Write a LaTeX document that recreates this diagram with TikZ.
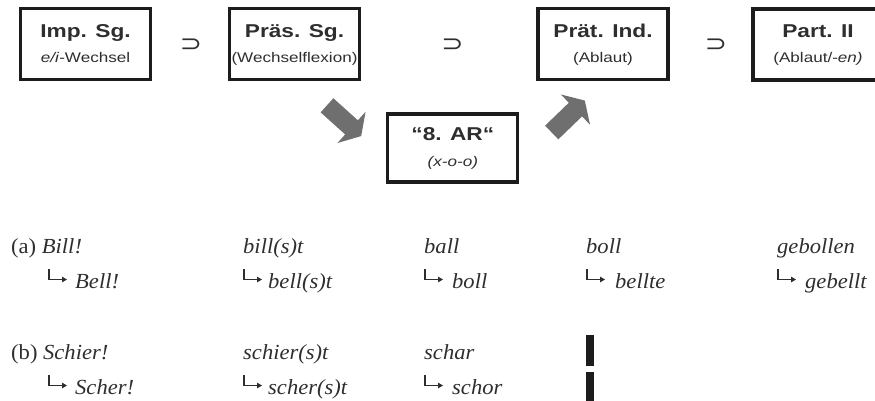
\documentclass[tikz,border=0pt]{standalone}
\usepackage{fontspec}
\usetikzlibrary{arrows.meta}
\setmainfont[FakeStretch=1.05]{Liberation Serif}
\setsansfont[FakeStretch=1.22]{Liberation Sans}
\newfontfamily\symfont[FakeStretch=1.15]{DejaVu Sans}
\definecolor{ink}{HTML}{2E2E2E}
\definecolor{boxline}{HTML}{1C1C1C}
\definecolor{shade}{HTML}{6F6F6F}
\begin{document}
\begin{tikzpicture}[x=1pt,y=-1pt,
  box/.style={draw=boxline, line width=3.2pt, minimum width=130pt, minimum height=71pt, inner sep=0pt},
  ttl/.style={font=\sffamily\bfseries\fontsize{18.6}{20}\selectfont, text=ink, anchor=base, inner sep=0pt},
  subt/.style={font=\sffamily\fontsize{14}{16}\selectfont, text=ink, anchor=base, inner sep=0pt},
  subset/.style={font=\symfont\fontsize{23}{23}\selectfont, text=ink, inner sep=0pt},
  ex/.style={font=\fontsize{21.5}{24}\selectfont, text=ink, anchor=base west, inner sep=0pt},
  blockarrow/.style={fill=shade, draw=none},
  hookarrow/.pic={\draw[ink, line width=1.4pt, -{Triangle[length=5pt,width=5.5pt]}] (1,-19) |- (19,-8.5);}]
\useasboundingbox (0,0) rectangle (875,401);
\clip (0,0) rectangle (875,401);

% category boxes
\node[box] (imp) at (85.5,44) {};
\node[ttl] (impT) at (85.5,38) {Imp. Sg.};
\node[subt] (impS) at (85.5,63) {\textit{e/i}-Wechsel};

\node[box] (praes) at (294.5,44) {};
\node[ttl] (praesT) at (294.5,38) {Präs. Sg.};
\node[subt] (praesS) at (294.5,63) {(Wechselflexion)};

\node[box] (praet) at (603,44) {};
\node[ttl] (praetT) at (603,38) {Prät. Ind.};
\node[subt] (praetS) at (603,63) {(Ablaut)};

\node[box] (part) at (818,44.5) {};
\node[ttl] (partT) at (818,38) {Part. II};
\node[subt] (partS) at (818,63) {(Ablaut/-\textit{en)}};

\node[box, minimum height=68pt] (ar) at (452.8,148) {};
\node[ttl] (arT) at (452.8,141) {“8. AR“};
\node[subt] (arS) at (452.8,166) {\textit{(x-o-o)}};

% subset signs between the boxes
\node[subset] (s1) at (191,45) {⊃};
\node[subset] (s2) at (452.5,45) {⊃};
\node[subset] (s3) at (716,45) {⊃};

% block arrows into and out of the "8. AR" box
\begin{scope}[shift={(327,105.3)}, rotate=-42]
  \fill[blockarrow] (0,9.5) -- (33,9.5) -- (33,21) -- (46,0) -- (33,-21) -- (33,-9.5) -- (0,-9.5) -- cycle;
\end{scope}
\begin{scope}[shift={(551.7,132.5)}, rotate=44]
  \fill[blockarrow] (0,9.5) -- (33,9.5) -- (33,21) -- (46,0) -- (33,-21) -- (33,-9.5) -- (0,-9.5) -- cycle;
\end{scope}

% example (a)
\node[ex] (a1) at (11,253) {(a) \textit{Bill!}};
\pic at (48,288) {hookarrow};
\node[ex] (a1b) at (75,288) {\textit{Bell!}};
\node[ex] (a2) at (243,253) {\textit{bill(s)t}};
\pic at (243,288) {hookarrow};
\node[ex] (a2b) at (268,288) {\textit{bell(s)t}};
\node[ex] (a3) at (424,253) {\textit{ball}};
\pic at (424,288) {hookarrow};
\node[ex] (a3b) at (452,288) {\textit{boll}};
\node[ex] (a4) at (586,253) {\textit{boll}};
\pic at (586,288) {hookarrow};
\node[ex] (a4b) at (615,288) {\textit{bellte}};
\node[ex] (a5) at (777,253) {\textit{gebollen}};
\pic at (777,288) {hookarrow};
\node[ex] (a5b) at (805,288) {\textit{gebellt}};

% example (b)
\node[ex] (b1) at (11,359) {(b) \textit{Schier!}};
\pic at (48,394) {hookarrow};
\node[ex] (b1b) at (75,394) {\textit{Scher!}};
\node[ex] (b2) at (243,359) {\textit{schier(s)t}};
\pic at (243,394) {hookarrow};
\node[ex] (b2b) at (268,394) {\textit{scher(s)t}};
\node[ex] (b3) at (424,359) {\textit{schar}};
\pic at (424,394) {hookarrow};
\node[ex] (b3b) at (452,394) {\textit{schor}};

% gap bars in column four
\fill[boxline] (586,335) rectangle (594,366);
\fill[boxline] (586,372) rectangle (594,405);
\end{tikzpicture}
\end{document}
